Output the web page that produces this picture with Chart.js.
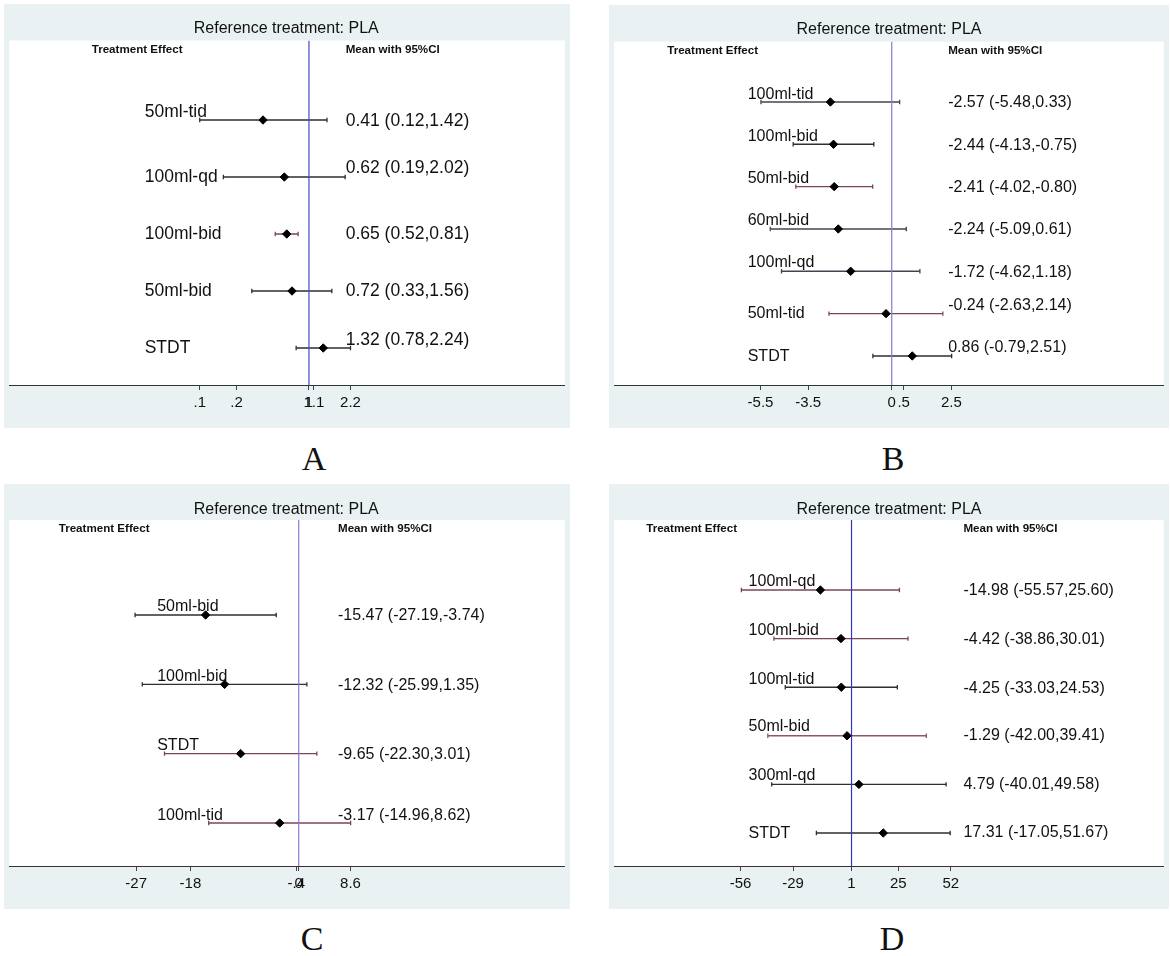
<!DOCTYPE html>
<html><head><meta charset="utf-8">
<script src="https://cdn.jsdelivr.net/npm/chart.js@4.4.1/dist/chart.umd.min.js"></script>
<style>
html,body{margin:0;padding:0;background:#fff;}
body{width:1170px;height:956px;position:relative;overflow:hidden;font-family:"Liberation Sans",Arial,sans-serif;}
.panel{position:absolute;background:#EAF1F3;}
.letter{position:absolute;font-family:"Liberation Serif","Times New Roman",serif;font-size:34px;line-height:1;transform:translate(-50%,-50%);color:#111;}
</style></head><body>
<div class="panel" style="left:4px;top:4px;width:566px;height:424px"><canvas id="cA"></canvas></div>
<div class="panel" style="left:609px;top:5px;width:560px;height:423px"><canvas id="cB"></canvas></div>
<div class="panel" style="left:4px;top:484px;width:566px;height:425px"><canvas id="cC"></canvas></div>
<div class="panel" style="left:609px;top:484px;width:560px;height:425px"><canvas id="cD"></canvas></div>
<div class="letter" style="left:314px;top:459px">A</div>
<div class="letter" style="left:893px;top:459px">B</div>
<div class="letter" style="left:312px;top:939px">C</div>
<div class="letter" style="left:892px;top:939px">D</div>
<script>
// ---------- DATA ----------
const aLabels = ['50ml-tid','100ml-qd','100ml-bid','50ml-bid','STDT'];
const aMean   = [0.41, 0.62, 0.65, 0.72, 1.32];
const aLow    = [0.12, 0.19, 0.52, 0.33, 0.78];
const aHigh   = [1.42, 2.02, 0.81, 1.56, 2.24];
const aTickValues = [0.12, 0.245, 1, 1.1, 2.24];
const aTickLabels = ['.1', '.2', '1', '1.1', '2.2'];

const bLabels = ['100ml-tid','100ml-bid','50ml-bid','60ml-bid','100ml-qd','50ml-tid','STDT'];
const bMean   = [-2.57, -2.44, -2.41, -2.24, -1.72, -0.24, 0.86];
const bLow    = [-5.48, -4.13, -4.02, -5.09, -4.62, -2.63, -0.79];
const bHigh   = [0.33, -0.75, -0.80, 0.61, 1.18, 2.14, 2.51];
const bTickValues = [-5.5, -3.5, 0, 0.5, 2.5];
const bTickLabels = ['-5.5', '-3.5', '0', '.5', '2.5'];

const cLabels = ['50ml-bid','100ml-bid','STDT','100ml-tid'];
const cMean   = [-15.47, -12.32, -9.65, -3.17];
const cLow    = [-27.19, -25.99, -22.30, -14.96];
const cHigh   = [-3.74, 1.35, 3.01, 8.62];
const cTickValues = [-27, -18, -0.4, 0, 8.6];
const cTickLabels = ['-27', '-18', '-.4', '0', '8.6'];

const dLabels = ['100ml-qd','100ml-bid','100ml-tid','50ml-bid','300ml-qd','STDT'];
const dMean   = [-14.98, -4.42, -4.25, -1.29, 4.79, 17.31];
const dLow    = [-55.57, -38.86, -33.03, -42.00, -40.01, -17.05];
const dHigh   = [25.60, 30.01, 24.53, 39.41, 49.58, 51.67];
const dTickValues = [-56, -29, 1, 25, 52];
const dTickLabels = ['-56', '-29', '1', '25', '52'];

const titleText = 'Reference treatment: PLA';
const headLeft = 'Treatment Effect';
const headRight = 'Mean with 95%CI';

// ---------- STYLE / LAYOUT ----------
const DK = '#2E2E2E', RD = '#7A4656', PG = '#4B4050', RL = '#8A5866';
const FONT = '"Liberation Sans", Arial, sans-serif';

const panels = [
  { id:'cA', labels:aLabels, mean:aMean, low:aLow, high:aHigh, tv:aTickValues, tl:aTickLabels,
    log:true, nullV:1, xMin:0.00297, xMax:143.6, yMin:-0.395, yMax:5.649,
    padL:3.5, padR:5, titleTop:15.4, titleBottom:1.9, axisH:43,
    labelX:135.5, valueX:336.5, headX:82.5, rowFont:17.5,
    labelDy:[-8,0,0,0,0], valueDy:[1,-9,0,0,-8],
    ciColors:[DK,DK,RD,DK,DK], nullColor:'#4848CC' },
  { id:'cB', labels:bLabels, mean:bMean, low:bLow, high:bHigh, tv:bTickValues, tl:bTickLabels,
    log:false, nullV:0, xMin:-11.63, xMax:11.40, yMin:-0.4245, yMax:7.686,
    padL:3, padR:3, titleTop:15.4, titleBottom:2.1, axisH:43,
    labelX:133.5, valueX:334, headX:53, rowFont:16,
    labelDy:[-7,-8,-8,-8,-9,0,1], valueDy:[1,1,1,1,1,-8,-8],
    ciColors:[PG,DK,RD,PG,PG,RD,DK], nullColor:'#8878D0' },
  { id:'cC', labels:cLabels, mean:cMean, low:cLow, high:cHigh, tv:cTickValues, tl:cTickLabels,
    log:false, nullV:0, xMin:-48.1, xMax:44.2, yMin:-0.370, yMax:4.620,
    padL:3.5, padR:5, titleTop:16.4, titleBottom:0.4, axisH:43,
    labelX:148, valueX:328.8, headX:49.5, rowFont:16,
    labelDy:[-8,-8,-8,-7], valueDy:[1,1,1,-7],
    ciColors:[DK,DK,RD,RD], nullColor:'#8878D8' },
  { id:'cD', labels:dLabels, mean:dMean, low:dLow, high:dHigh, tv:dTickValues, tl:dTickLabels,
    log:false, nullV:1, xMin:-120.9, xMax:161.4, yMin:-0.440, yMax:6.679,
    padL:1, padR:1, titleTop:16.4, titleBottom:0.4, axisH:43,
    labelX:134.4, valueX:349.2, headX:32, rowFont:16,
    labelDy:[-8,-8,-8,-9,-9,1], valueDy:[1,1,1,0,0,0],
    ciColors:[RD,RD,DK,RL,DK,DK], nullColor:'#3434B8' }
];

function fmt(v){ return v.toFixed(2); }

function makePanel(p){
  const texts = p.labels.map((_, i) => fmt(p.mean[i]) + ' (' + fmt(p.low[i]) + ',' + fmt(p.high[i]) + ')');
  const datasets = [];
  // means (top-most)
  datasets.push({
    data: p.mean.map((m, i) => ({x:m, y:i+1})),
    pointStyle:'rectRot', pointRadius:4.2, pointHoverRadius:4.2,
    backgroundColor:'#000', borderColor:'#000', borderWidth:1, order:0
  });
  // null line
  datasets.push({
    data:[{x:p.nullV, y:p.yMin}, {x:p.nullV, y:p.yMax}],
    showLine:true, borderColor:p.nullColor, borderWidth:1.2, pointRadius:0, order:1
  });
  // CI lines
  p.labels.forEach((_, i) => {
    datasets.push({
      data:[{x:p.low[i], y:i+1}, {x:p.high[i], y:i+1}],
      showLine:true, borderColor:p.ciColors[i], borderWidth:1.4,
      pointStyle:'line', rotation:90, pointRadius:2.2, pointHoverRadius:2.2,
      pointBorderColor:p.ciColors[i], pointBorderWidth:1.3, order:2
    });
  });

  const textPlugin = {
    id:'forestText',
    beforeDraw(chart){
      const {ctx, chartArea:ca} = chart;
      ctx.save(); ctx.fillStyle = '#fff';
      ctx.fillRect(ca.left, ca.top, ca.right - ca.left, ca.bottom - ca.top);
      ctx.restore();
    },
    afterDatasetsDraw(chart){
      const {ctx, chartArea:ca} = chart;
      const y = chart.scales.y;
      ctx.save();
      ctx.fillStyle = '#111'; ctx.textBaseline = 'middle'; ctx.textAlign = 'left';
      ctx.font = 'bold 11.6px ' + FONT;
      ctx.fillText(headLeft, ca.left + p.headX, ca.top + 9);
      ctx.fillText(headRight, ca.left + p.valueX, ca.top + 9);
      ctx.font = p.rowFont + 'px ' + FONT;
      p.labels.forEach((lab, i) => {
        const py = y.getPixelForValue(i + 1);
        ctx.fillText(lab, ca.left + p.labelX, py + p.labelDy[i]);
        ctx.fillText(texts[i], ca.left + p.valueX, py + p.valueDy[i]);
      });
      ctx.restore();
    }
  };

  new Chart(document.getElementById(p.id), {
    type:'scatter',
    data:{datasets},
    options:{
      responsive:true, maintainAspectRatio:false, animation:false, events:[],
      layout:{padding:{left:p.padL, right:p.padR, top:0, bottom:0}},
      plugins:{
        legend:{display:false}, tooltip:{enabled:false},
        title:{display:true, text:titleText, color:'#111',
               font:{family:FONT, size:16, weight:'normal'},
               padding:{top:p.titleTop, bottom:p.titleBottom}}
      },
      scales:{
        x:{
          type: p.log ? 'logarithmic' : 'linear',
          min:p.xMin, max:p.xMax,
          afterBuildTicks: ax => { ax.ticks = p.tv.map(v => ({value:v})); },
          afterFit: ax => { ax.height = p.axisH; },
          border:{display:true, color:'#333', width:1},
          grid:{display:true, drawOnChartArea:false, drawTicks:true, tickLength:5, color:'#444', lineWidth:1},
          ticks:{autoSkip:false, maxRotation:0, minRotation:0, padding:4, color:'#111',
                 font:{family:FONT, size:15},
                 callback:(v, i) => p.tl[i]}
        },
        y:{type:'linear', reverse:true, min:p.yMin, max:p.yMax, display:false}
      }
    },
    plugins:[textPlugin]
  });
}
panels.forEach(makePanel);
</script>
</body></html>
